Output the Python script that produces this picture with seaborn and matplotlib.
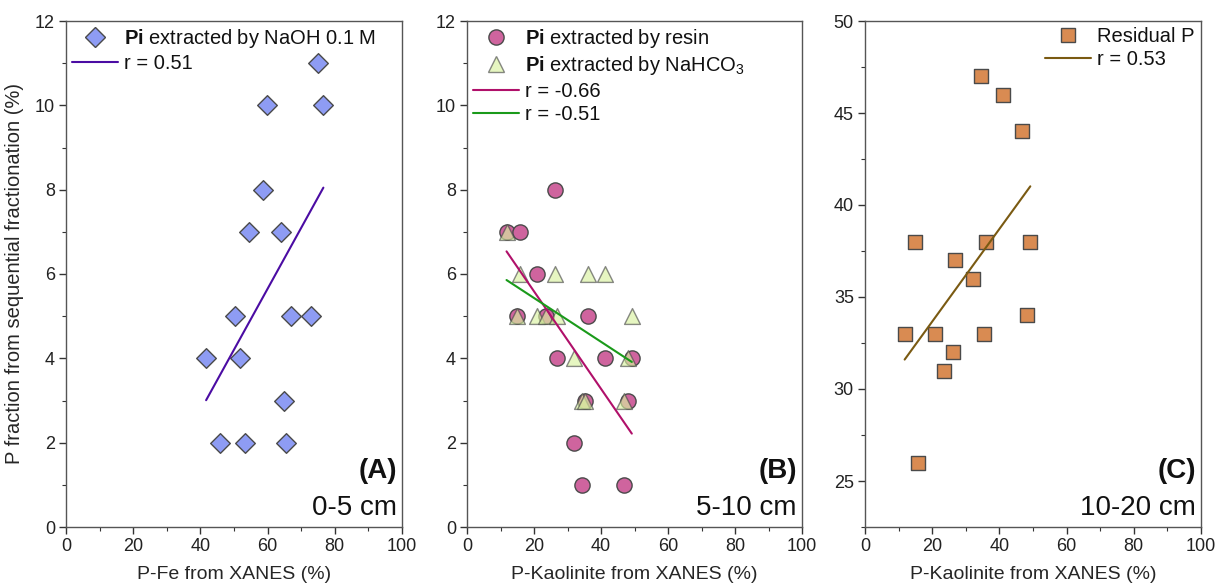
import numpy as np
import pandas as pd
import matplotlib
matplotlib.use("Agg")
import matplotlib.pyplot as plt
from matplotlib.lines import Line2D
from matplotlib.ticker import MultipleLocator
import seaborn as sns

# ---- data -------------------------------------------------------------
# (A) 0-5 cm : P-Fe (XANES) vs Pi extracted by NaOH 0.1 M
pfe_x = [75.1, 59.8, 76.6, 58.6, 54.4, 63.9, 50.3, 67.1, 73.0, 41.7, 51.8, 64.8, 45.7, 53.3, 65.6]
naoh_y = [11, 10, 10, 8, 7, 7, 5, 5, 5, 4, 4, 3, 2, 2, 2]
r_naoh = "r = 0.51"

# (B) 5-10 cm and (C) 10-20 cm : P-Kaolinite (XANES) for the same samples
kaol_x = [11.8, 14.9, 15.8, 20.9, 23.5, 26.2, 26.9, 32.0, 34.4, 35.3, 36.0, 41.2, 46.8, 48.1, 49.2]
resin_y = [7, 5, 7, 6, 5, 8, 4, 2, 1, 3, 5, 4, 1, 3, 4]
nahco3_y = [7, 5, 6, 5, 5, 6, 5, 4, 3, 3, 6, 6, 3, 4, 5]
residual_y = [33, 38, 26, 33, 31, 32, 37, 36, 47, 33, 38, 46, 44, 34, 38]
r_resin = "r = -0.66"
r_nahco3 = "r = -0.51"
r_residual = "r = 0.53"

panel_tags = ["(A)", "(B)", "(C)"]
depths = ["0-5 cm", "5-10 cm", "10-20 cm"]

# ---- style -------------------------------------------------------------
sns.set_theme(style="ticks")
plt.rcParams["font.family"] = ["Liberation Sans", "DejaVu Sans"]
plt.rcParams["mathtext.fontset"] = "custom"
plt.rcParams["mathtext.rm"] = "Liberation Sans"
plt.rcParams["mathtext.bf"] = "Liberation Sans:bold"
plt.rcParams["mathtext.it"] = "Liberation Sans:italic"
plt.rcParams["axes.edgecolor"] = "#555555"
plt.rcParams["axes.linewidth"] = 1.0
plt.rcParams["xtick.color"] = "#333333"
plt.rcParams["ytick.color"] = "#333333"
plt.rcParams["xtick.labelcolor"] = "#222222"
plt.rcParams["ytick.labelcolor"] = "#222222"
plt.rcParams["text.color"] = "#111111"

fig = plt.figure(figsize=(12.16, 5.83), dpi=100)
W, H = 1216, 583
boxes = [(66, 402), (467, 802), (865, 1201)]
top, bottom = 21, 527
axes = [fig.add_axes([l / W, (H - bottom) / H, (r - l) / W, (bottom - top) / H]) for l, r in boxes]

EDGE = "#4a4a4a"
c_naoh, c_resin, c_nahco3, c_res = "#8e9cf4", "#cf649e", "#d9f2a0", "#d98b52"
l_naoh, l_resin, l_nahco3, l_res = "#4b0ca3", "#b0106a", "#1a9a1a", "#7a5a12"

df_a = pd.DataFrame({"x": pfe_x, "y": naoh_y})
df_b = pd.DataFrame({"x": kaol_x, "resin": resin_y, "nahco3": nahco3_y, "res": residual_y})

legend_kw = dict(frameon=False, fontsize=14.5, handlelength=2.3, handletextpad=0.3,
                 labelspacing=0.22, borderaxespad=0.0, borderpad=0.3)


def scatter(ax, x, y, data, marker, color, size, label, alpha=1.0, z=3):
    sns.scatterplot(data=data, x=x, y=y, ax=ax, marker=marker, s=size, color=color,
                    edgecolor=EDGE, linewidth=1.0, alpha=alpha, zorder=z, legend=False)
    return Line2D([], [], ls="none", marker=marker, markersize=np.sqrt(size),
                  markerfacecolor=color, markeredgecolor=EDGE, markeredgewidth=1.0,
                  alpha=alpha, label=label)


def fit(ax, x, y, data, color, label):
    sns.regplot(data=data, x=x, y=y, ax=ax, scatter=False, ci=None, truncate=True,
                line_kws=dict(color=color, lw=1.5, zorder=4))
    return Line2D([], [], color=color, lw=1.5, label=label)


# (A)
ax = axes[0]
h1 = scatter(ax, "x", "y", df_a, "D", c_naoh, 100, r"$\mathbf{Pi}$ extracted by NaOH 0.1 M")
h2 = fit(ax, "x", "y", df_a, l_naoh, r_naoh)
ax.legend(handles=[h1, h2], loc="upper left", bbox_to_anchor=(0.0, 1.0), **legend_kw)

# (B)
ax = axes[1]
h1 = scatter(ax, "x", "resin", df_b, "o", c_resin, 120, r"$\mathbf{Pi}$ extracted by resin", z=3)
h2 = scatter(ax, "x", "nahco3", df_b, "^", c_nahco3, 130, r"$\mathbf{Pi}$ extracted by NaHCO$_3$",
             alpha=0.65, z=3.5)
h3 = fit(ax, "x", "resin", df_b, l_resin, r_resin)
h4 = fit(ax, "x", "nahco3", df_b, l_nahco3, r_nahco3)
ax.legend(handles=[h1, h2, h3, h4], loc="upper left", bbox_to_anchor=(0.0, 1.0), **legend_kw)

# (C)
ax = axes[2]
h1 = scatter(ax, "x", "res", df_b, "s", c_res, 90, "Residual P")
h2 = fit(ax, "x", "res", df_b, l_res, r_residual)
ax.legend(handles=[h1, h2], loc="upper right", bbox_to_anchor=(1.0, 1.0), **legend_kw)

# ---- axes cosmetics ----------------------------------------------------
xlabels = ["P-Fe from XANES (%)", "P-Kaolinite from XANES (%)", "P-Kaolinite from XANES (%)"]
for i, ax in enumerate(axes):
    ax.set_xlim(0, 100)
    ax.xaxis.set_major_locator(MultipleLocator(20))
    ax.xaxis.set_minor_locator(MultipleLocator(10))
    if i < 2:
        ax.set_ylim(0, 12)
        ax.yaxis.set_major_locator(MultipleLocator(2))
        ax.yaxis.set_minor_locator(MultipleLocator(1))
    else:
        ax.set_ylim(22.5, 50)
        ax.yaxis.set_major_locator(MultipleLocator(5))
        ax.yaxis.set_minor_locator(MultipleLocator(2.5))
    ax.tick_params(which="major", direction="out", length=5, width=1.0, labelsize=13, pad=3)
    ax.tick_params(which="minor", direction="out", length=3, width=0.8)
    for s in ax.spines.values():
        s.set_visible(True)
    ax.set_xlabel(xlabels[i], fontsize=14, labelpad=8)
    ax.set_ylabel("")
    ax.text(0.985, 0.085, panel_tags[i], transform=ax.transAxes, ha="right", va="bottom",
            fontsize=20, fontweight="bold")
    ax.text(0.985, 0.012, depths[i], transform=ax.transAxes, ha="right", va="bottom",
            fontsize=20)

axes[0].set_ylabel("P fraction from sequential fractionation (%)", fontsize=14.5, labelpad=8)

fig.savefig("out.png", dpi=100)
